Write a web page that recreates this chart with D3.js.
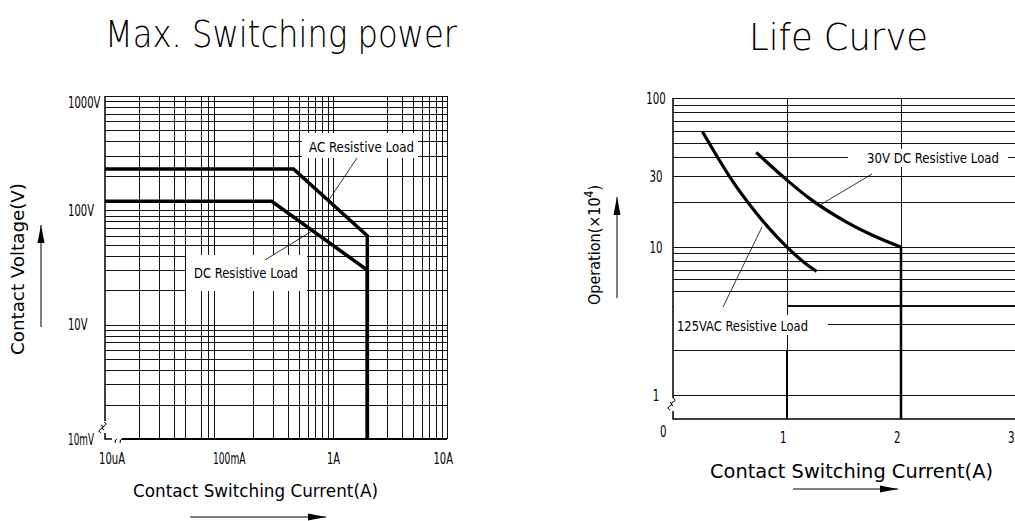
<!DOCTYPE html>
<html>
<head>
<meta charset="utf-8">
<script src="https://cdn.jsdelivr.net/npm/d3@7"></script>
<style>
  body { margin: 0; background: #fff; }
  text { font-family: "DejaVu Sans Condensed", "DejaVu Sans", sans-serif; font-stretch: condensed; fill: #000; }
  .title { font-family: "DejaVu Sans", sans-serif; font-weight: 200; font-stretch: normal; }
</style>
</head>
<body>
<script>
// ---- data: Max. switching power (log/log, broken axes) ----
const powerCurrentTicks = [0.01, 0.1, 1, 10];
const powerCurrentLabels = ["10uA", "100mA", "1A", "10A"];
const powerVoltTicks = [1, 10, 100, 1000];
const powerVoltLabels = ["10mV", "10V", "100V", "1000V"];
const powerCurrentGrid = [0.02, 0.03, 0.04, 0.05, 0.07, 0.08, 0.09,
  0.2, 0.3, 0.4, 0.5, 0.6, 0.7, 0.8, 0.9, 1, 3, 4, 5, 6, 7, 8, 9];
const powerVoltGrid = [2, 3, 4, 5, 6, 7, 8, 9, 10, 20, 30, 40, 50, 60, 70, 80, 90, 100,
  200, 300, 400, 500, 600, 700, 800, 900, 1000];
const acLoadCurrent = [0.01, 0.45, 2, 2];
const acLoadVoltage = [230, 230, 60, 1];
const dcLoadCurrent = [0.01, 0.29, 2, 2];
const dcLoadVoltage = [120, 120, 30, 1];

// ---- data: Life curve ----
const lifeCurrentTicks = [1, 2, 3];
const lifeOpTicks = [1, 10, 30, 100];
const lifeOpGrid = [1, 2, 3, 4, 5, 6, 7, 8, 9, 10, 20, 30, 40, 50, 60, 70, 80, 90, 100];
const acLifeCurrent = [0.26, 0.39, 0.53, 0.68, 0.83, 1.0, 1.2, 1.26];
const acLifeOps = [59, 40, 27, 18.8, 13.6, 9.9, 7.3, 6.8];
const dcLifeCurrent = [0.73, 1.0, 1.2, 1.53, 1.75, 2.0];
const dcLifeOps = [43, 28, 21, 14.5, 11.9, 9.9];

const svg = d3.select('body').append('svg')
  .attr('width', 1015)
  .attr('height', 521);

function arrow(g, x1, y1, x2, y2) {
  g.append('line').attr('x1', x1).attr('y1', y1).attr('x2', x2).attr('y2', y2)
    .attr('stroke', '#000').attr('stroke-width', 1);
  const a = Math.atan2(y2 - y1, x2 - x1), len = 18, w = 3.5;
  const bx = x2 - len * Math.cos(a), by = y2 - len * Math.sin(a);
  g.append('path')
    .attr('d', `M${x2},${y2}L${bx - w * Math.sin(a)},${by + w * Math.cos(a)}L${bx + w * Math.sin(a)},${by - w * Math.cos(a)}Z`)
    .attr('fill', '#000');
}

// narrow CAD-like lettering: squeeze each label to about 6.5px per character
function label(g, x, y, str, size, width) {
  return g.append('text').attr('x', x).attr('y', y).attr('font-size', size)
    .attr('textLength', width || str.length * 6.5).attr('lengthAdjust', 'spacingAndGlyphs')
    .text(str);
}

// =================== left chart ===================
const xP = d3.scaleLog().domain([0.01, 10]).range([105, 447]);
const yP = d3.scaleLog().domain([1, 1000]).range([439, 96]);
const left = svg.append('g');

left.append('text').attr('class', 'title')
  .attr('x', 105).attr('y', 47).attr('font-size', 38)
  .attr('textLength', 352).attr('lengthAdjust', 'spacingAndGlyphs')
  .text('Max. Switching power');

const gridP = left.append('g').attr('stroke', '#111').attr('stroke-width', 1)
  .attr('shape-rendering', 'crispEdges');
gridP.selectAll('.h').data(powerVoltGrid).enter().append('line')
  .attr('x1', xP(0.01)).attr('x2', xP(10))
  .attr('y1', d => Math.round(yP(d)) + 0.5).attr('y2', d => Math.round(yP(d)) + 0.5);
gridP.selectAll('.v').data(powerCurrentGrid.concat([10])).enter().append('line')
  .attr('y1', yP(1000)).attr('y2', yP(1))
  .attr('x1', d => Math.round(xP(d)) + 0.5).attr('x2', d => Math.round(xP(d)) + 0.5);

// label boxes knock out the grid
left.append('rect').attr('x', 302).attr('y', 133).attr('width', 116).attr('height', 25).attr('fill', '#fff');
left.append('rect').attr('x', 186).attr('y', 255).attr('width', 121).attr('height', 36).attr('fill', '#fff');

// axes with break marks
const axP = left.append('g').attr('fill', 'none').attr('stroke', '#000');
axP.append('path').attr('stroke-width', 1.5)
  .attr('d', `M${xP(0.01)},${yP(1000)}V${yP(1) - 18}M${xP(0.01)},${yP(1) - 6}V${yP(1)}H${xP(0.01) + 7}`);
axP.append('path').attr('stroke-width', 1)
  .attr('d', `M${xP(0.01) - 1},${yP(1) - 17}q4,2 0,4q-4,2 0,4M${xP(0.01) - 4},${yP(1) - 14}q4,2 0,4q-4,2 0,4`);
axP.append('path').attr('stroke-width', 1)
  .attr('d', `M${xP(0.01) + 10},${yP(1) + 4}q0,-4 2,-4M${xP(0.01) + 15},${yP(1) + 4}q0,-4 2,-4`);
axP.append('line').attr('stroke-width', 2)
  .attr('x1', xP(0.01) + 17).attr('x2', xP(10)).attr('y1', yP(1)).attr('y2', yP(1));

// curves
const lineP = d3.line().x(d => xP(d[0])).y(d => yP(d[1]));
left.append('path').datum(d3.zip(acLoadCurrent, acLoadVoltage))
  .attr('d', lineP).attr('fill', 'none').attr('stroke', '#000').attr('stroke-width', 3.5);
left.append('path').datum(d3.zip(dcLoadCurrent, dcLoadVoltage))
  .attr('d', lineP).attr('fill', 'none').attr('stroke', '#000').attr('stroke-width', 3.5);

// annotations
label(left, 309, 152, 'AC Resistive Load', 14.5, 105);
left.append('line').attr('x1', 357).attr('y1', 158).attr('x2', xP(0.92)).attr('y2', 200)
  .attr('stroke', '#000').attr('stroke-width', 0.8);
label(left, 194, 278, 'DC Resistive Load', 14.5, 104);
left.append('line').attr('x1', 265).attr('y1', 260).attr('x2', 312).attr('y2', 231)
  .attr('stroke', '#000').attr('stroke-width', 0.8);

// tick labels
powerVoltTicks.forEach((d, i) => {
  label(left, 68, Math.max(yP(d) + 5.5, yP(1000) + 12), powerVoltLabels[i], 15);
});
powerCurrentTicks.forEach((d, i) => {
  const s = powerCurrentLabels[i];
  label(left, i === 3 ? xP(d) + 6 - s.length * 6.5 : xP(d) - 6, 464, s, 15);
});

// axis titles
left.append('text').attr('x', 133).attr('y', 497).attr('font-size', 18)
  .attr('textLength', 245).attr('lengthAdjust', 'spacingAndGlyphs')
  .text('Contact Switching Current(A)');
arrow(left, 190, 517, 326, 517);
left.append('text').attr('transform', 'translate(24,355) rotate(-90)').attr('font-size', 17)
  .attr('textLength', 172).attr('lengthAdjust', 'spacingAndGlyphs')
  .text('Contact Voltage(V)');
arrow(left, 41, 327, 41, 225);

// =================== right chart ===================
const xL = d3.scaleLinear().domain([0, 3]).range([673, 1015]);
const yL = d3.scaleLog().domain([1, 100]).range([395, 98]);
const lifeBottom = yL(1) + 24;
const right = svg.append('g');

right.append('text').attr('class', 'title')
  .attr('x', 749).attr('y', 50).attr('font-size', 38)
  .attr('textLength', 179).attr('lengthAdjust', 'spacingAndGlyphs')
  .text('Life Curve');

const gridL = right.append('g').attr('stroke', '#111').attr('stroke-width', 1)
  .attr('shape-rendering', 'crispEdges');
gridL.selectAll('.h').data(lifeOpGrid).enter().append('line')
  .attr('x1', xL(0)).attr('x2', xL(3))
  .attr('y1', d => Math.round(yL(d)) + 0.5).attr('y2', d => Math.round(yL(d)) + 0.5);
gridL.selectAll('.v').data(lifeCurrentTicks).enter().append('line')
  .attr('y1', yL(100)).attr('y2', lifeBottom)
  .attr('x1', d => Math.round(xL(d)) + 0.5).attr('x2', d => Math.round(xL(d)) + 0.5);

// label boxes
right.append('rect').attr('x', xL(0) + 1).attr('y', 306).attr('width', xL(1) - xL(0) - 1).attr('height', 43).attr('fill', '#fff');
right.append('rect').attr('x', xL(1) - 1).attr('y', 315).attr('width', 42).attr('height', 20).attr('fill', '#fff');
right.append('rect').attr('x', 848).attr('y', 149).attr('width', 160).attr('height', 18).attr('fill', '#fff');
right.append('line').attr('x1', xL(1)).attr('x2', xL(3)).attr('y1', 305.5).attr('y2', 305.5)
  .attr('stroke', '#111');

// axes
const axL = right.append('g').attr('fill', 'none').attr('stroke', '#000');
axL.append('path').attr('stroke-width', 1.5)
  .attr('d', `M${xL(0)},${yL(100)}V${yL(1) + 3}M${xL(0)},${yL(1) + 16}V${lifeBottom}H${xL(3)}`);
axL.append('path').attr('stroke-width', 1)
  .attr('d', `M${xL(0)},${yL(1) + 3}q4,2 0,4q-4,2 0,4M${xL(0) - 3},${yL(1) + 7}q4,2 0,4q-4,2 0,4`);

// drop lines
right.append('line').attr('x1', xL(1)).attr('x2', xL(1)).attr('y1', yL(2)).attr('y2', lifeBottom)
  .attr('stroke', '#000').attr('stroke-width', 2);
right.append('line').attr('x1', xL(2)).attr('x2', xL(2)).attr('y1', yL(9.9)).attr('y2', lifeBottom)
  .attr('stroke', '#000').attr('stroke-width', 2.5);

// curves
const lineL = d3.line().x(d => xL(d[0])).y(d => yL(d[1])).curve(d3.curveMonotoneX);
right.append('path').datum(d3.zip(acLifeCurrent, acLifeOps))
  .attr('d', lineL).attr('fill', 'none').attr('stroke', '#000').attr('stroke-width', 3.2);
right.append('path').datum(d3.zip(dcLifeCurrent, dcLifeOps))
  .attr('d', lineL).attr('fill', 'none').attr('stroke', '#000').attr('stroke-width', 3.2);

// annotations
label(right, 867, 163, '30V DC Resistive Load', 14.5, 132);
right.append('line').attr('x1', 872).attr('y1', 174).attr('x2', 820).attr('y2', 205)
  .attr('stroke', '#000').attr('stroke-width', 0.8);
label(right, 677, 331, '125VAC Resistive Load', 14.5, 131);
right.append('line').attr('x1', 723).attr('y1', 307).attr('x2', 762).attr('y2', 227)
  .attr('stroke', '#000').attr('stroke-width', 0.8);

// tick labels
lifeOpTicks.forEach(d => {
  const s = String(d);
  label(right, 656 - s.length * 3.25, yL(d) + 6, s, 15);
});
label(right, 660, 437, '0', 15);
lifeCurrentTicks.forEach(d => {
  label(right, xL(d) - 7, 443, String(d), 15);
});

// axis titles
right.append('text').attr('x', 710).attr('y', 478).attr('font-size', 19)
  .attr('textLength', 283).attr('lengthAdjust', 'spacingAndGlyphs')
  .text('Contact Switching Current(A)');
arrow(right, 793, 489, 898, 489);
const opT = right.append('text').attr('transform', 'translate(600,305) rotate(-90)').attr('font-size', 16);
opT.append('tspan').text('Operation(×10');
opT.append('tspan').attr('dy', -7).attr('font-size', 12).text('4');
opT.append('tspan').attr('dy', 7).text(')');
arrow(right, 617, 298, 617, 197);
</script>
</body>
</html>
